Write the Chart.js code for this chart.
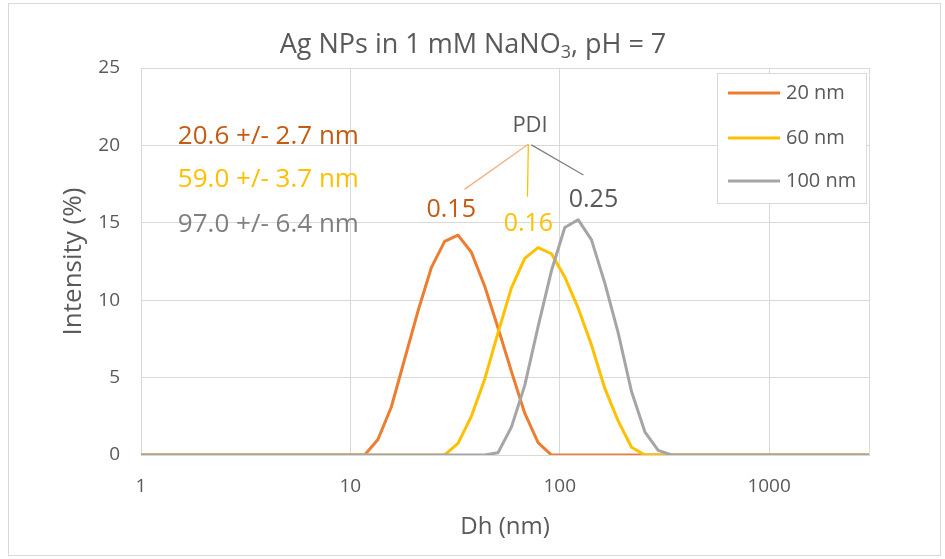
<!DOCTYPE html>
<html><head><meta charset="utf-8">
<script src="https://cdn.jsdelivr.net/npm/chart.js@4"></script>
<style>html,body{margin:0;padding:0;background:#fff}#wrap{width:945px;height:559px;position:relative}</style>
</head><body><div id="wrap"><canvas id="c" width="945" height="559"></canvas></div>
<script>
// ---- data ----
const sizesNm = [1, 10.1, 11.7, 13.54, 15.69, 18.17, 21.04, 24.36, 28.21, 32.67, 37.84, 43.82, 50.75, 58.77, 68.06, 78.82, 91.28, 105.7, 122.4, 141.8, 164.2, 190.1, 220.2, 255.0, 295.3, 342.0, 396.1, 3000];
const int20nm  = [0,0,0,1.0,3.1,6.2,9.3,12.1,13.8,14.2,13.1,10.9,8.2,5.4,2.7,0.8,0,0,0,0,0,0,0,0,0,0,0,0];
const int60nm  = [0,0,0,0,0,0,0,0,0,0.75,2.5,4.9,7.9,10.8,12.7,13.4,13.0,11.5,9.5,7.1,4.3,2.2,0.5,0,0,0,0,0];
const int100nm = [0,0,0,0,0,0,0,0,0,0,0,0,0.15,1.8,4.5,8.3,11.9,14.7,15.2,13.9,11.1,7.9,4.1,1.5,0.3,0,0,0];
const seriesNames = ['20 nm', '60 nm', '100 nm'];
const xTicks = [1, 10, 100, 1000];
const yTicks = [0, 5, 10, 15, 20, 25];
const sizeLabels = ['20.6 +/- 2.7 nm', '59.0 +/- 3.7 nm', '97.0 +/- 6.4 nm'];
const pdiLabels = ['0.15', '0.16', '0.25'];

// ---- styles ----
const C = {orange:'#ED7D31', orangeText:'#C55A11', orangeLine:'#F4B183', yellow:'#FFC000', gray:'#A5A5A5', grayText:'#7F7F7F', dark:'#595959', grid:'#D9D9D9', axis:'#BFBFBF'};
const FONT = "'Open Sans', 'DejaVu Sans', sans-serif";
Chart.defaults.font.family = FONT;

// annotation anchors in data units (x in nm, y in %)
const textAnn = [
  {text: sizeLabels[0], x: 1.50, y: 20.09, color: C.orangeText, size: 26},
  {text: sizeLabels[1], x: 1.50, y: 17.29, color: C.yellow, size: 26},
  {text: sizeLabels[2], x: 1.50, y: 14.43, color: C.grayText, size: 26},
  {text: 'PDI', x: 59.4, y: 20.87, color: C.dark, size: 22},
  {text: pdiLabels[0], x: 23.1, y: 15.37, color: C.orangeText, size: 25},
  {text: pdiLabels[1], x: 54.0, y: 14.47, color: C.yellow, size: 25},
  {text: pdiLabels[2], x: 110.4, y: 16.02, color: C.dark, size: 25}
];
const lineAnn = [
  {x1: 70.8, y1: 20.07, x2: 35.1, y2: 17.16, color: C.orangeLine},
  {x1: 70.8, y1: 20.07, x2: 70.1, y2: 16.68, color: C.yellow},
  {x1: 73.2, y1: 20.03, x2: 129.8, y2: 18.09, color: C.grayText}
];

const decor = {
  id: 'decor',
  beforeDraw(chart) {
    const ctx = chart.ctx;
    ctx.save();
    ctx.fillStyle = '#fff';
    ctx.fillRect(0, 0, chart.width, chart.height);
    ctx.strokeStyle = C.grid; ctx.lineWidth = 1;
    ctx.strokeRect(8.5, 3.5, 932, 552);
    ctx.restore();
  },
  beforeDatasetsDraw(chart) {
    const ctx = chart.ctx, a = chart.chartArea;
    ctx.save();
    ctx.strokeStyle = C.grid; ctx.lineWidth = 1;
    ctx.strokeRect(Math.round(a.left) + 0.5, Math.round(a.top) + 0.5, Math.round(a.right - a.left), Math.round(a.bottom - a.top));
    ctx.restore();
  },
  afterDatasetsDraw(chart) {
    const ctx = chart.ctx, a = chart.chartArea;
    const xs = chart.scales.x, ys = chart.scales.y;
    ctx.save();
    // title with subscript
    const tSize = 27;
    const parts = [
      {t: 'Ag NPs in 1 mM NaNO', s: tSize, dy: 0},
      {t: '3', s: Math.round(tSize * 0.65), dy: 5},
      {t: ', pH = 7', s: tSize, dy: 0}
    ];
    let total = 0;
    parts.forEach(p => { ctx.font = p.s + 'px ' + FONT; p.w = ctx.measureText(p.t).width; total += p.w; });
    let tx = 473 - total / 2;
    ctx.fillStyle = C.dark; ctx.textBaseline = 'alphabetic'; ctx.textAlign = 'left';
    parts.forEach(p => { ctx.font = p.s + 'px ' + FONT; ctx.fillText(p.t, tx, 53 + p.dy); tx += p.w; });

    // axis titles
    ctx.font = '24px ' + FONT; ctx.textAlign = 'center'; ctx.textBaseline = 'middle';
    ctx.fillText('Dh (nm)', (a.left + a.right) / 2, 527);
    ctx.save();
    ctx.translate(74, (a.top + a.bottom) / 2);
    ctx.rotate(-Math.PI / 2);
    ctx.font = '26px ' + FONT;
    ctx.fillText('Intensity (%)', 0, 0);
    ctx.restore();

    // annotation lines
    ctx.lineWidth = 1.3;
    lineAnn.forEach(l => {
      ctx.strokeStyle = l.color;
      ctx.beginPath();
      ctx.moveTo(xs.getPixelForValue(l.x1), ys.getPixelForValue(l.y1));
      ctx.lineTo(xs.getPixelForValue(l.x2), ys.getPixelForValue(l.y2));
      ctx.stroke();
    });
    // annotation texts
    ctx.textAlign = 'left'; ctx.textBaseline = 'alphabetic';
    textAnn.forEach(t => {
      ctx.font = t.size + 'px ' + FONT;
      ctx.fillStyle = t.color;
      ctx.fillText(t.text, xs.getPixelForValue(t.x), ys.getPixelForValue(t.y));
    });

    // legend
    ctx.fillStyle = '#fff'; ctx.strokeStyle = C.grid; ctx.lineWidth = 1;
    ctx.fillRect(717.5, 73.5, 149, 130);
    ctx.strokeRect(717.5, 73.5, 149, 130);
    const rows = [93, 138, 181];
    chart.data.datasets.forEach((ds, i) => {
      ctx.strokeStyle = ds.borderColor; ctx.lineWidth = 3;
      ctx.beginPath(); ctx.moveTo(728, rows[i]); ctx.lineTo(780, rows[i]); ctx.stroke();
      ctx.fillStyle = C.dark; ctx.font = '20px ' + FONT; ctx.textBaseline = 'middle';
      ctx.fillText(ds.label, 786, rows[i]);
    });
    ctx.restore();
  }
};

const mk = (arr) => sizesNm.map((x, i) => ({x: x, y: arr[i]}));

new Chart(document.getElementById('c'), {
  type: 'line',
  data: {
    datasets: [
      {label: seriesNames[0], data: mk(int20nm), borderColor: C.orange, order: 3},
      {label: seriesNames[1], data: mk(int60nm), borderColor: C.yellow, order: 2},
      {label: seriesNames[2], data: mk(int100nm), borderColor: C.gray, order: 1}
    ]
  },
  options: {
    responsive: false, animation: false,
    layout: {padding: {left: 0, right: 76, top: 68, bottom: 0}},
    plugins: {legend: {display: false}, title: {display: false}, tooltip: {enabled: false}},
    elements: {
      line: {borderWidth: 3, tension: 0, borderJoinStyle: 'round', borderCapStyle: 'round', fill: false},
      point: {radius: 0, hoverRadius: 0}
    },
    scales: {
      x: {
        type: 'logarithmic', min: 1, max: 3000,
        afterBuildTicks: s => { s.ticks = xTicks.map(v => ({value: v})); },
        ticks: {callback: v => String(v), color: C.dark, font: {size: 19}, padding: 20, maxRotation: 0, autoSkip: false},
        grid: {color: C.grid, drawTicks: false},
        border: {display: true, color: C.axis},
        afterFit: s => { s.height = 104; }
      },
      y: {
        min: 0, max: 25,
        afterBuildTicks: s => { s.ticks = yTicks.map(v => ({value: v})); },
        ticks: {color: C.dark, font: {size: 19}, padding: 21},
        grid: {color: C.grid, drawTicks: false},
        border: {display: true, color: C.grid},
        afterFit: s => { s.width = 141; }
      }
    }
  },
  plugins: [decor]
});
</script></body></html>
